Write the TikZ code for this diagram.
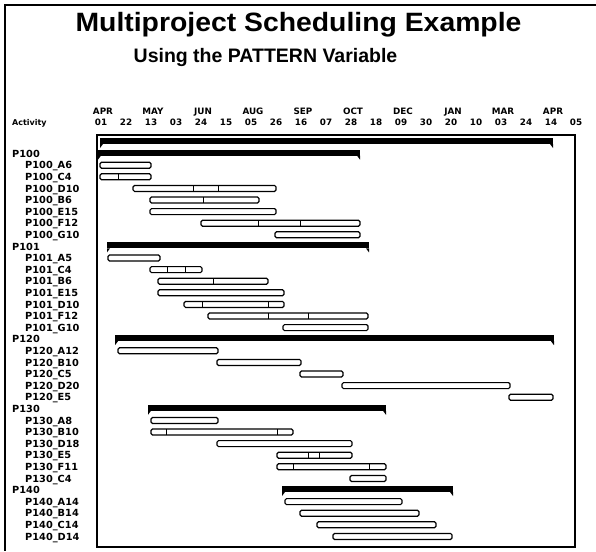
\documentclass[tikz,border=0pt]{standalone}
\usepackage{fontspec}
\setmainfont{Liberation Sans}
\newfontfamily\chartfont{DejaVu Sans}
\begin{document}
\begin{tikzpicture}[x=1pt,y=-1pt,
  frameline/.style={line width=1.4pt},
  plotframe/.style={line width=1.1pt},
  titletext/.style={anchor=base,font=\bfseries\fontsize{26.5}{30}\selectfont},
  subtitletext/.style={anchor=base,font=\bfseries\fontsize{19.5}{22}\selectfont},
  axislbl/.style={anchor=base,inner sep=0pt,font=\chartfont\bfseries\fontsize{8.8}{9}\selectfont},
  actlbl/.style={anchor=base west,inner sep=0pt,font=\chartfont\bfseries\fontsize{9.8}{10}\selectfont},
  headlbl/.style={anchor=base west,inner sep=0pt,font=\chartfont\bfseries\fontsize{8}{9}\selectfont},
  taskbar/.style={draw=black,fill=white,line width=1.2pt,rounded corners=1.5pt},
  divider/.style={line width=0.9pt},
  sumbar/.style={fill=black}]

\useasboundingbox (0,0) rectangle (596,551);
\fill[white] (0,0) rectangle (596,551);

% page frame
\draw[frameline] (596,5) -- (5,5) -- (5,551);

% titles
\node[titletext] (title) at (298.5,32) {\scalebox{1.07}[1]{Multiproject Scheduling Example}};
\node[subtitletext] (subtitle) at (265.5,63) {Using the PATTERN Variable};

% time axis: month row and day row (ticks every 21 days)
\foreach \k/\m in {0/APR,1/MAY,2/JUN,3/AUG,4/SEP,5/OCT,6/DEC,7/JAN,8/MAR,9/APR}
  \node[axislbl] (mon\k) at (103+\k*50,114) {\m};
\foreach \k/\d in {0/01,1/22,2/13,3/03,4/24,5/15,6/05,7/26,8/16,9/07,
                   10/28,11/18,12/09,13/30,14/20,15/10,16/03,17/24,18/14,19/05}
  \node[axislbl] (day\k) at (101+\k*25,125) {\d};
\node[headlbl] (acthead) at (12,125) {Activity};

% chart area
\draw[plotframe] (97,135) rectangle (575,547);

% activity labels
\foreach \r/\t in {1/P100,9/P101,17/P120,23/P130,30/P140}
  \node[actlbl] (lbl\r) at (12,{142+\r*11.6+3.6}) {\t};
\foreach \r/\t in {2/P100\_A6,3/P100\_C4,4/P100\_D10,5/P100\_B6,6/P100\_E15,7/P100\_F12,8/P100\_G10,
                   10/P101\_A5,11/P101\_C4,12/P101\_B6,13/P101\_E15,14/P101\_D10,15/P101\_F12,16/P101\_G10,
                   18/P120\_A12,19/P120\_B10,20/P120\_C5,21/P120\_D20,22/P120\_E5,
                   24/P130\_A8,25/P130\_B10,26/P130\_D18,27/P130\_E5,28/P130\_F11,29/P130\_C4,
                   31/P140\_A14,32/P140\_B14,33/P140\_C14,34/P140\_D14}
  \node[actlbl] (lbl\r) at (25,{142+\r*11.6+3.6}) {\t};

% summary bars with end drops
\foreach \r/\a/\b in {0/100/553,1/98/360,9/107/369,17/115/554,23/148/386,30/282/453} {
  \pgfmathsetmacro\yy{142+\r*11.6}
  \fill[sumbar] (\a,\yy-4) rectangle (\b,\yy+2);
  \fill[sumbar] (\a,\yy+2) -- (\a,\yy+6) -- (\a+3,\yy+2) -- cycle;
  \fill[sumbar] (\b,\yy+2) -- (\b,\yy+6) -- (\b-3,\yy+2) -- cycle;
}

% activity bars
\foreach \r/\a/\b in {2/100/151,3/100/151,4/133/276,5/150/259,6/150/276,7/201/360,8/275/360,
                      10/108/160,11/150/202,12/158/268,13/158/284,14/184/284,15/208/368,16/283/368,
                      18/118/218,19/217/301,20/300/343,21/342/510,22/509/553,
                      24/151/218,25/151/293,26/217/352,27/277/352,28/277/386,29/350/386,
                      31/285/402,32/300/419,33/317/436,34/333/452} {
  \pgfmathsetmacro\yy{142+\r*11.6}
  \draw[taskbar] (\a,\yy-3) rectangle (\b,\yy+3);
}

% pattern changes inside bars
\foreach \r/\x in {3/118,4/193,4/218,5/203,7/258,7/300,11/167,11/185,12/213,
                   14/202,14/268,15/268,15/308,25/166,25/277,27/308,27/319,28/293,28/369} {
  \pgfmathsetmacro\yy{142+\r*11.6}
  \draw[divider] (\x,\yy-3) -- (\x,\yy+3);
}
\end{tikzpicture}
\end{document}
